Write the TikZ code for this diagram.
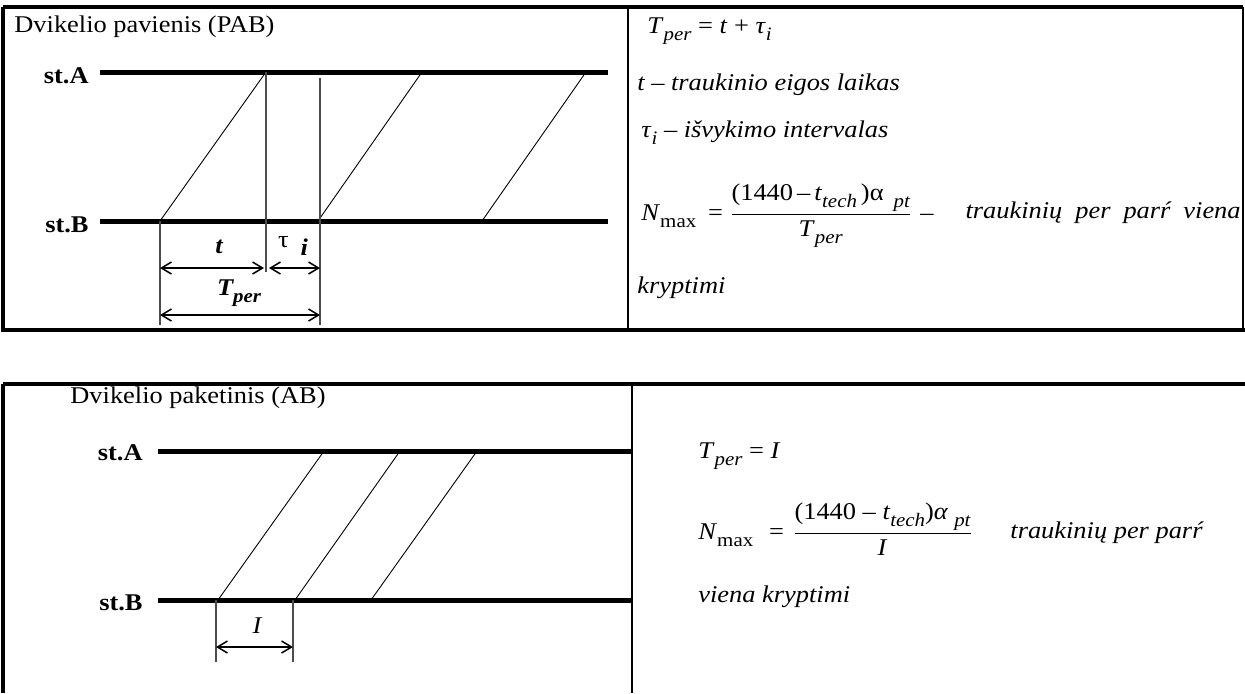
\documentclass[tikz,border=0pt]{standalone}
\usepackage{fontspec}
\setmainfont{Liberation Serif}[FakeStretch=1.1]
\usetikzlibrary{arrows.meta}

\newcommand{\lo}[1]{\raisebox{-3.5pt}{\fontsize{9.5}{10}\selectfont#1}}
\newcommand{\fracbox}[2]{$\displaystyle\frac{\mbox{#1}}{\mbox{#2}}$}

\begin{document}
\begin{tikzpicture}[x=.5pt,y=-.5pt,font=\fontsize{12}{14}\selectfont,
    >={Straight Barb[length=5pt,width=6pt]},
    frame/.style={line width=2pt},
    divider/.style={line width=1.2pt},
    station/.style={line width=2.5pt},
    train/.style={line width=.45pt},
    tick/.style={black!70,line width=.55pt},
    dim/.style={<->,line width=.75pt},
    stlabel/.style={anchor=base east,inner sep=0pt,font=\fontsize{12}{14}\selectfont\bfseries},
    dimlabel/.style={anchor=base,inner sep=0pt,font=\fontsize{12}{14}\selectfont\bfseries\itshape},
    txt/.style={anchor=base west,inner sep=0pt}]
    \useasboundingbox (0,0) rectangle (1245,693);

    % top table
    \draw[frame] (3,7) -- (1243,7);
    \draw[frame] (3,7) -- (3,330) -- (1245,330);
    \draw[line width=1pt] (1243,7) -- (1243,330);
    \draw[divider] (628,7) -- (628,330);

    \node[txt] (titleA) at (14,32) {Dvikelio pavienis (PAB)};
    \node[stlabel] (stA1) at (89,83) {st.A};
    \node[stlabel] (stB1) at (89,232) {st.B};
    \coordinate (A1w) at (100,72);
    \coordinate (A1e) at (608,72);
    \coordinate (B1w) at (100,221);
    \coordinate (B1e) at (608,221);
    \draw[station] (A1w) -- (A1e);
    \draw[station] (B1w) -- (B1e);
    \foreach \b/\a in {160/266,318/422,482/586} {
      \draw[train] (\b,221) -- (\a,72);
    }
    \draw[tick] (160,221) -- (160,325);
    \draw[tick] (266,72) -- (266,272);
    \draw[tick] (320,78) -- (320,325);
    \draw[dim] (160,268) -- (264,268);
    \draw[dim] (269,268) -- (320,268);
    \draw[dim] (160,315) -- (320,315);
    \node[dimlabel] (tlab) at (219,253) {t};
    \node[anchor=base,inner sep=0pt] (taulab) at (293,247)
      {τ\hspace{6pt}\raisebox{-4pt}{\bfseries\itshape i}};
    \node[dimlabel] (Tlab) at (239,295) {T\lo{per}};

    \node[txt] (eqA) at (647,33)
      {\textit{T}\lo{\itshape per} = \textit{t} + \textit{τ}\lo{\itshape i}};
    \node[txt] (defT) at (637,90) {\textit{t – traukinio eigos laikas}};
    \node[txt] (defTau) at (641,137)
      {\textit{τ}\lo{\itshape i} \textit{– išvykimo intervalas}};
    \node[txt] (NA) at (641,220)
      {\textit{N}\lo{max}\hspace{6pt}=\hspace{3pt}\fracbox{(1440\,–\,\textit{t}\lo{\itshape tech}\hspace{2pt})α\hspace{5pt}\lo{\itshape pt}}{\textit{T}\lo{\itshape per}}\hspace{4pt}–};
    \node[anchor=base east,inner sep=0pt] (NAtxt) at (1241,218)
      {\makebox[137.5pt][s]{\itshape traukinių per parŕ viena}};
    \node[txt] (NAtxt2) at (637,293) {\textit{kryptimi}};

    % bottom table
    \draw[frame] (3,384) -- (1245,384);
    \draw[frame] (3,384) -- (3,693);
    \draw[divider] (632,384) -- (632,693);

    \node[txt] (titleB) at (70,403) {Dvikelio paketinis (AB)};
    \node[stlabel] (stA2) at (143,460) {st.A};
    \node[stlabel] (stB2) at (143,610) {st.B};
    \coordinate (A2w) at (158,451);
    \coordinate (A2e) at (632,451);
    \coordinate (B2w) at (158,600);
    \coordinate (B2e) at (632,600);
    \draw[station] (A2w) -- (A2e);
    \draw[station] (B2w) -- (B2e);
    \foreach \b/\a in {218/324,295/400,371/477} {
      \draw[train] (\b,600) -- (\a,451);
    }
    \draw[tick] (216,600) -- (216,662);
    \draw[tick] (293,600) -- (293,662);
    \draw[dim] (216,647) -- (293,647);
    \node[anchor=base,inner sep=0pt,font=\fontsize{12}{14}\selectfont\itshape] (Ilab) at (257,633) {I};

    \node[txt] (eqB) at (698,458) {\textit{T}\lo{\itshape per} = \textit{I}};
    \node[txt] (NB) at (698,539)
      {\textit{N}\lo{max}\hspace{8pt}=\hspace{4pt}\fracbox{(1440 – \textit{t}\lo{\itshape tech})\textit{α}\hspace{3pt}\lo{\itshape pt}}{\textit{I}}};
    \node[txt] (NBtxt) at (1010,538) {\textit{traukinių per parŕ}};
    \node[txt] (NBtxt2) at (698,602) {\textit{viena kryptimi}};
\end{tikzpicture}
\end{document}
